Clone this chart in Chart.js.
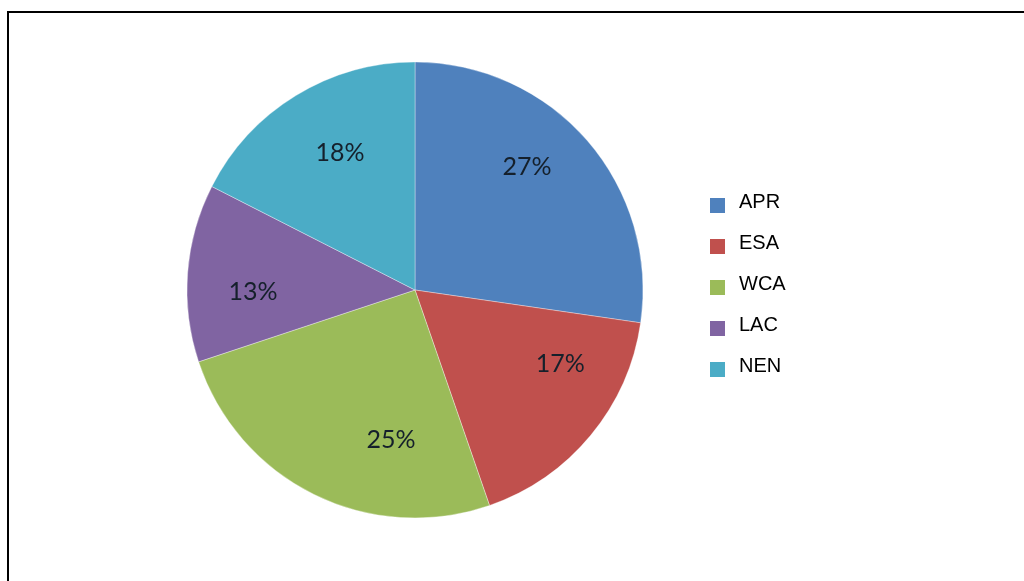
<!DOCTYPE html>
<html>
<head>
<meta charset="utf-8">
<script src="https://cdn.jsdelivr.net/npm/chart.js@4/dist/chart.umd.min.js"></script>
<style>
  html, body { margin: 0; padding: 0; background: #fff; overflow: hidden; }
  #wrap { position: relative; width: 1024px; height: 581px; }
  #frame { position: absolute; left: 7px; top: 11px; width: 1100px; height: 700px;
           border-top: 2px solid #000; border-left: 2px solid #000; pointer-events: none; }
  canvas { position: absolute; left: 0; top: 0; }
</style>
</head>
<body>
<div id="wrap">
  <canvas id="c" width="1024" height="581"></canvas>
  <div id="frame"></div>
</div>
<script>
// ---- data ----
const categories = ['APR', 'ESA', 'WCA', 'LAC', 'NEN'];
const shares = [27.3, 17.4, 25.2, 12.6, 17.5];
const sliceColors = ['#4F81BD', '#C0504D', '#9BBB59', '#8064A2', '#4BACC6'];

// label placement inside each slice: fraction along slice angle, fraction of radius
const labelAngleFrac = [0.43, 0.30, 0.31, 0.39, 0.545];
const labelRadiusFrac = [0.73, 0.716, 0.666, 0.71, 0.685];

const pctLabels = {
  id: 'pctLabels',
  afterDatasetsDraw(chart) {
    const ctx = chart.ctx;
    const meta = chart.getDatasetMeta(0);
    const vals = chart.data.datasets[0].data;
    const total = vals.reduce((a, b) => a + b, 0);
    ctx.save();
    ctx.font = '25px Lato, "Open Sans", sans-serif';
    ctx.fillStyle = '#15202b';
    ctx.textAlign = 'center';
    ctx.textBaseline = 'middle';
    meta.data.forEach((arc, i) => {
      const p = arc.getProps(['x', 'y', 'startAngle', 'endAngle', 'outerRadius'], true);
      const a = p.startAngle + (p.endAngle - p.startAngle) * labelAngleFrac[i];
      const r = p.outerRadius * labelRadiusFrac[i];
      const txt = Math.round(vals[i] / total * 100) + '%';
      ctx.fillText(txt, p.x + Math.cos(a) * r, p.y + Math.sin(a) * r);
    });
    ctx.restore();
  }
};

const sideLegend = {
  id: 'sideLegend',
  afterDraw(chart, args, opts) {
    const ctx = chart.ctx;
    const labels = chart.data.labels;
    const colors = chart.data.datasets[0].backgroundColor;
    ctx.save();
    ctx.font = opts.fontSize + 'px "Liberation Sans", Arial, sans-serif';
    ctx.textAlign = 'left';
    ctx.textBaseline = 'middle';
    labels.forEach((lab, i) => {
      const y = opts.top + i * opts.step;
      ctx.fillStyle = colors[i];
      ctx.fillRect(opts.left, y, opts.box, opts.box);
      ctx.fillStyle = '#000';
      ctx.fillText(lab, opts.textLeft, y + opts.box / 2 - 3);
    });
    ctx.restore();
  }
};

new Chart(document.getElementById('c'), {
  type: 'pie',
  data: {
    labels: categories,
    datasets: [{
      data: shares,
      backgroundColor: sliceColors,
      borderColor: 'rgba(255,255,255,0.35)',
      borderWidth: 1,
      hoverOffset: 0,
      radius: 228
    }]
  },
  options: {
    responsive: false,
    animation: false,
    events: [],
    layout: { padding: { left: 187, right: 381, top: 62, bottom: 63 } },
    plugins: {
      legend: { display: false },
      tooltip: { enabled: false },
      sideLegend: { left: 710, top: 198, step: 41, box: 15, textLeft: 739, fontSize: 20 }
    }
  },
  plugins: [pctLabels, sideLegend]
});
</script>
</body>
</html>
